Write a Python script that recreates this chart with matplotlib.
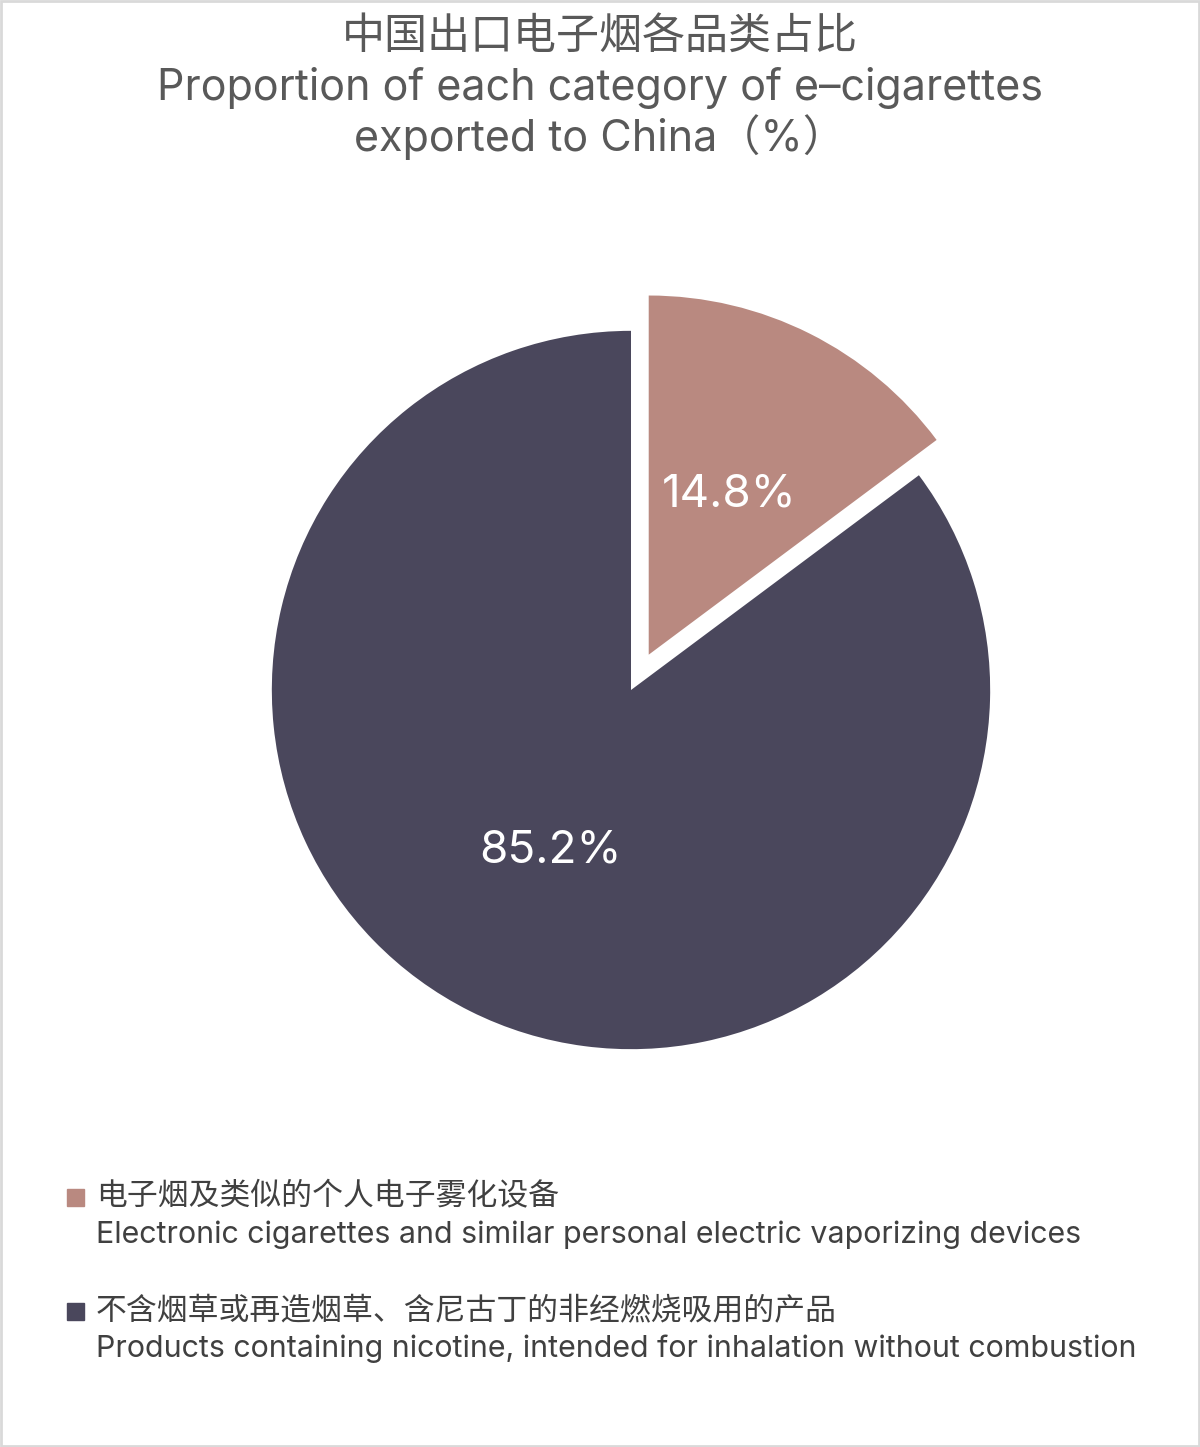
import matplotlib
matplotlib.use("Agg")
import matplotlib.pyplot as plt
from matplotlib.patches import Rectangle

plt.rcParams['font.family'] = ['Noto Sans CJK SC', 'DejaVu Sans']
LATIN = ['Inter', 'Noto Sans CJK SC', 'DejaVu Sans']

# data
shares = [14.8, 85.2]
colors = ['#B98980', '#4A475C']
names_cn = ['电子烟及类似的个人电子雾化设备',
            '不含烟草或再造烟草、含尼古丁的非经燃烧吸用的产品']
names_en = ['Electronic cigarettes and similar personal electric vaporizing devices',
            'Products containing nicotine, intended for inhalation without combustion']
title_cn = '中国出口电子烟各品类占比'
title_en = ['Proportion of each category of e\u2013cigarettes',
            'exported to China（%）']

W, H = 1200, 1447
fig = plt.figure(figsize=(W / 100, H / 100), dpi=100)
fig.patch.set_facecolor('white')

# pie axes, 1 data unit = ~359 px
ax = fig.add_axes([200 / W, 326 / H, 862 / W, 862 / H])
wedges, texts, autotexts = ax.pie(shares, colors=colors, startangle=90,
                                  counterclock=False, explode=[0.11, 0],
                                  autopct='%.1f%%', pctdistance=0.5,
                                  radius=1.0, frame=True,
                                  wedgeprops=dict(linewidth=0))
ax.set_xlim(-1.2, 1.2)
ax.set_ylim(-1.2, 1.2)
ax.set_aspect('equal')
ax.axis('off')
for t in autotexts:
    t.set_color('white')
    t.set_fontsize(33)
    t.set_family(LATIN)

# title
fig.text(0.5, 1 - 37 / H, title_cn, ha='center', va='center',
         fontsize=31, color='#595959')
for line, y in zip(title_en, [88, 137]):
    fig.text(0.5, 1 - y / H, line, ha='center', va='center',
             fontsize=31, color='#595959', family=LATIN)

# legend by hand
rows = [1197, 1311]
for i, y in enumerate(rows):
    fig.patches.append(Rectangle((67 / W, 1 - (y + 9) / H), 17 / W, 17 / H,
                                 transform=fig.transFigure, color=colors[i]))
    fig.text(96 / W, 1 - y / H, names_cn[i], ha='left', va='center',
             fontsize=22.2, color='#404040')
    fig.text(96 / W, 1 - (y + 38) / H, names_en[i], ha='left', va='center',
             fontsize=21.9, color='#404040', family=LATIN)

# thin frame round the picture
fig.patches.append(Rectangle((0.001, 0.001), 0.998, 0.998, transform=fig.transFigure,
                             fill=False, edgecolor='#D9D9D9', linewidth=2))

fig.savefig('out.png', dpi=100)
